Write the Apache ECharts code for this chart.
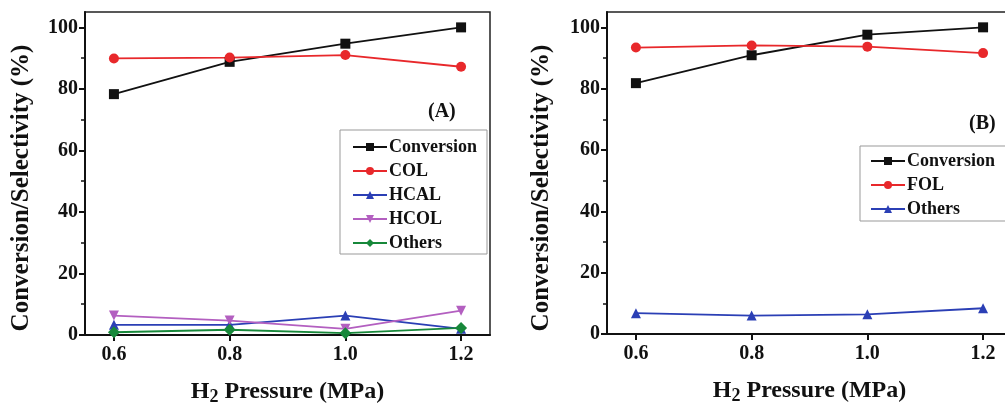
<!DOCTYPE html>
<html><head><meta charset="utf-8">
<script src="https://cdn.jsdelivr.net/npm/echarts@6/dist/echarts.min.js"></script>
<style>html,body{margin:0;padding:0;background:#fff}#c{width:1005px;height:408px}</style>
</head><body><div id="c"></div>
<script>
const pressures = [0.6, 0.8, 1.0, 1.2];
const xTicks = [0.6, 0.8, 1.0, 1.2];
const yTicks = [0, 20, 40, 60, 80, 100];
// Panel A
const aConversion = [78.3, 88.8, 94.7, 100];
const aCOL = [89.9, 90.2, 91.0, 87.2];
const aHCAL = [3.3, 3.3, 6.3, 2.0];
const aHCOL = [6.3, 4.7, 2.0, 7.9];
const aOthers = [0.9, 1.7, 0.6, 2.3];
// Panel B
const bConversion = [81.8, 90.9, 97.6, 100];
const bFOL = [93.4, 94.1, 93.7, 91.6];
const bOthers = [6.8, 6.0, 6.4, 8.4];

const C = {black:'#111111', red:'#e8282b', blue:'#2b3fb5', magenta:'#b35fc0', green:'#17883a'};
const FONT = '"Liberation Serif", "Times New Roman", serif';
const pair = arr => arr.map((v,i)=>[pressures[i], v]);

function xAxis(idx){
  return {type:'value', gridIndex:idx, min:0.55, max:1.25,
    axisLine:{show:true, onZero:false, lineStyle:{color:'#111', width:2}},
    axisTick:{show:true, inside:false, length:6, customValues:xTicks, lineStyle:{color:'#111', width:2}},
    axisLabel:{customValues:xTicks, formatter:v=>v.toFixed(1), color:'#111', fontFamily:FONT, fontWeight:'bold', fontSize:20, margin:10},
    splitLine:{show:false},
    name:'{a|H}{s|2}{a| Pressure (MPa)}', nameLocation:'middle', nameGap:43,
    nameTextStyle:{rich:{a:{fontFamily:FONT, fontWeight:'bold', fontSize:24, color:'#111'}, s:{fontFamily:FONT, fontWeight:'bold', fontSize:18, color:'#111', verticalAlign:'bottom', padding:[10,0,0,0]}}}
  };
}
function yAxis(idx){
  return {type:'value', gridIndex:idx, min:0, max:105,
    axisLine:{show:true, lineStyle:{color:'#111', width:2}},
    axisTick:{show:true, length:6, customValues:yTicks, lineStyle:{color:'#111', width:2}},
    minorTick:{show:true, splitNumber:2, length:4, lineStyle:{color:'#111', width:1.5}},
    axisLabel:{customValues:yTicks, color:'#111', fontFamily:FONT, fontWeight:'bold', fontSize:20, margin:7},
    splitLine:{show:false}, minorSplitLine:{show:false}
  };
}
function series(name, data, color, symbol, idx, rot){
  return {name, type:'line', xAxisIndex:idx, yAxisIndex:idx, data:pair(data),
    symbol, symbolSize: symbol==='diamond'?12:10, symbolRotate: rot||0,
    lineStyle:{color, width:1.8}, itemStyle:{color}, z: 3};
}
function yTitle(x){
  return {type:'text', x:x, y:188, rotation:Math.PI/2,
    style:{text:'Conversion/Selectivity (%)', font:'bold 25px "Liberation Serif", serif', fill:'#111', align:'center', verticalAlign:'middle'}};
}
const legendCommon = {orient:'vertical', itemWidth:34, itemHeight:10, itemGap:6,
  borderColor:'#999', borderWidth:1, backgroundColor:'#fff',
  textStyle:{fontFamily:FONT, fontWeight:'bold', fontSize:18, color:'#111', padding:[0,0,0,-3]}};

const chart = echarts.init(document.getElementById('c'));
chart.setOption({
  animation:false,
  grid:[
    {left:85, top:12, width:405, height:323, show:true, borderColor:'#222', borderWidth:1.5, backgroundColor:'transparent', outerBoundsMode:'none', containLabel:false},
    {left:607, top:12, width:405, height:322, show:true, borderColor:'#222', borderWidth:1.5, backgroundColor:'transparent', outerBoundsMode:'none', containLabel:false}
  ],
  xAxis:[xAxis(0), xAxis(1)],
  yAxis:[yAxis(0), yAxis(1)],
  legend:[
    Object.assign({}, legendCommon, {left:340, top:130, padding:[8,10,2,12],
      data:['Conversion','COL','HCAL','HCOL','Others'].map(n=>({name:n}))}),
    Object.assign({}, legendCommon, {left:860, top:146, padding:[6,20,3,10],
      data:['Conversion ','FOL','Others '].map(n=>({name:n}))})
  ],
  graphic:[
    yTitle(22), yTitle(542),
    {type:'text', left:428, top:102, style:{text:'(A)', font:'bold 20px "Liberation Serif", serif', fill:'#111'}},
    {type:'text', left:969, top:114, style:{text:'(B)', font:'bold 20px "Liberation Serif", serif', fill:'#111'}}
  ],
  series:[
    series('Conversion', aConversion, C.black, 'rect', 0),
    series('COL', aCOL, C.red, 'circle', 0),
    series('HCAL', aHCAL, C.blue, 'triangle', 0),
    series('HCOL', aHCOL, C.magenta, 'triangle', 0, 180),
    series('Others', aOthers, C.green, 'diamond', 0),
    series('Conversion ', bConversion, C.black, 'rect', 1),
    series('FOL', bFOL, C.red, 'circle', 1),
    series('Others ', bOthers, C.blue, 'triangle', 1)
  ]
});
</script></body></html>
